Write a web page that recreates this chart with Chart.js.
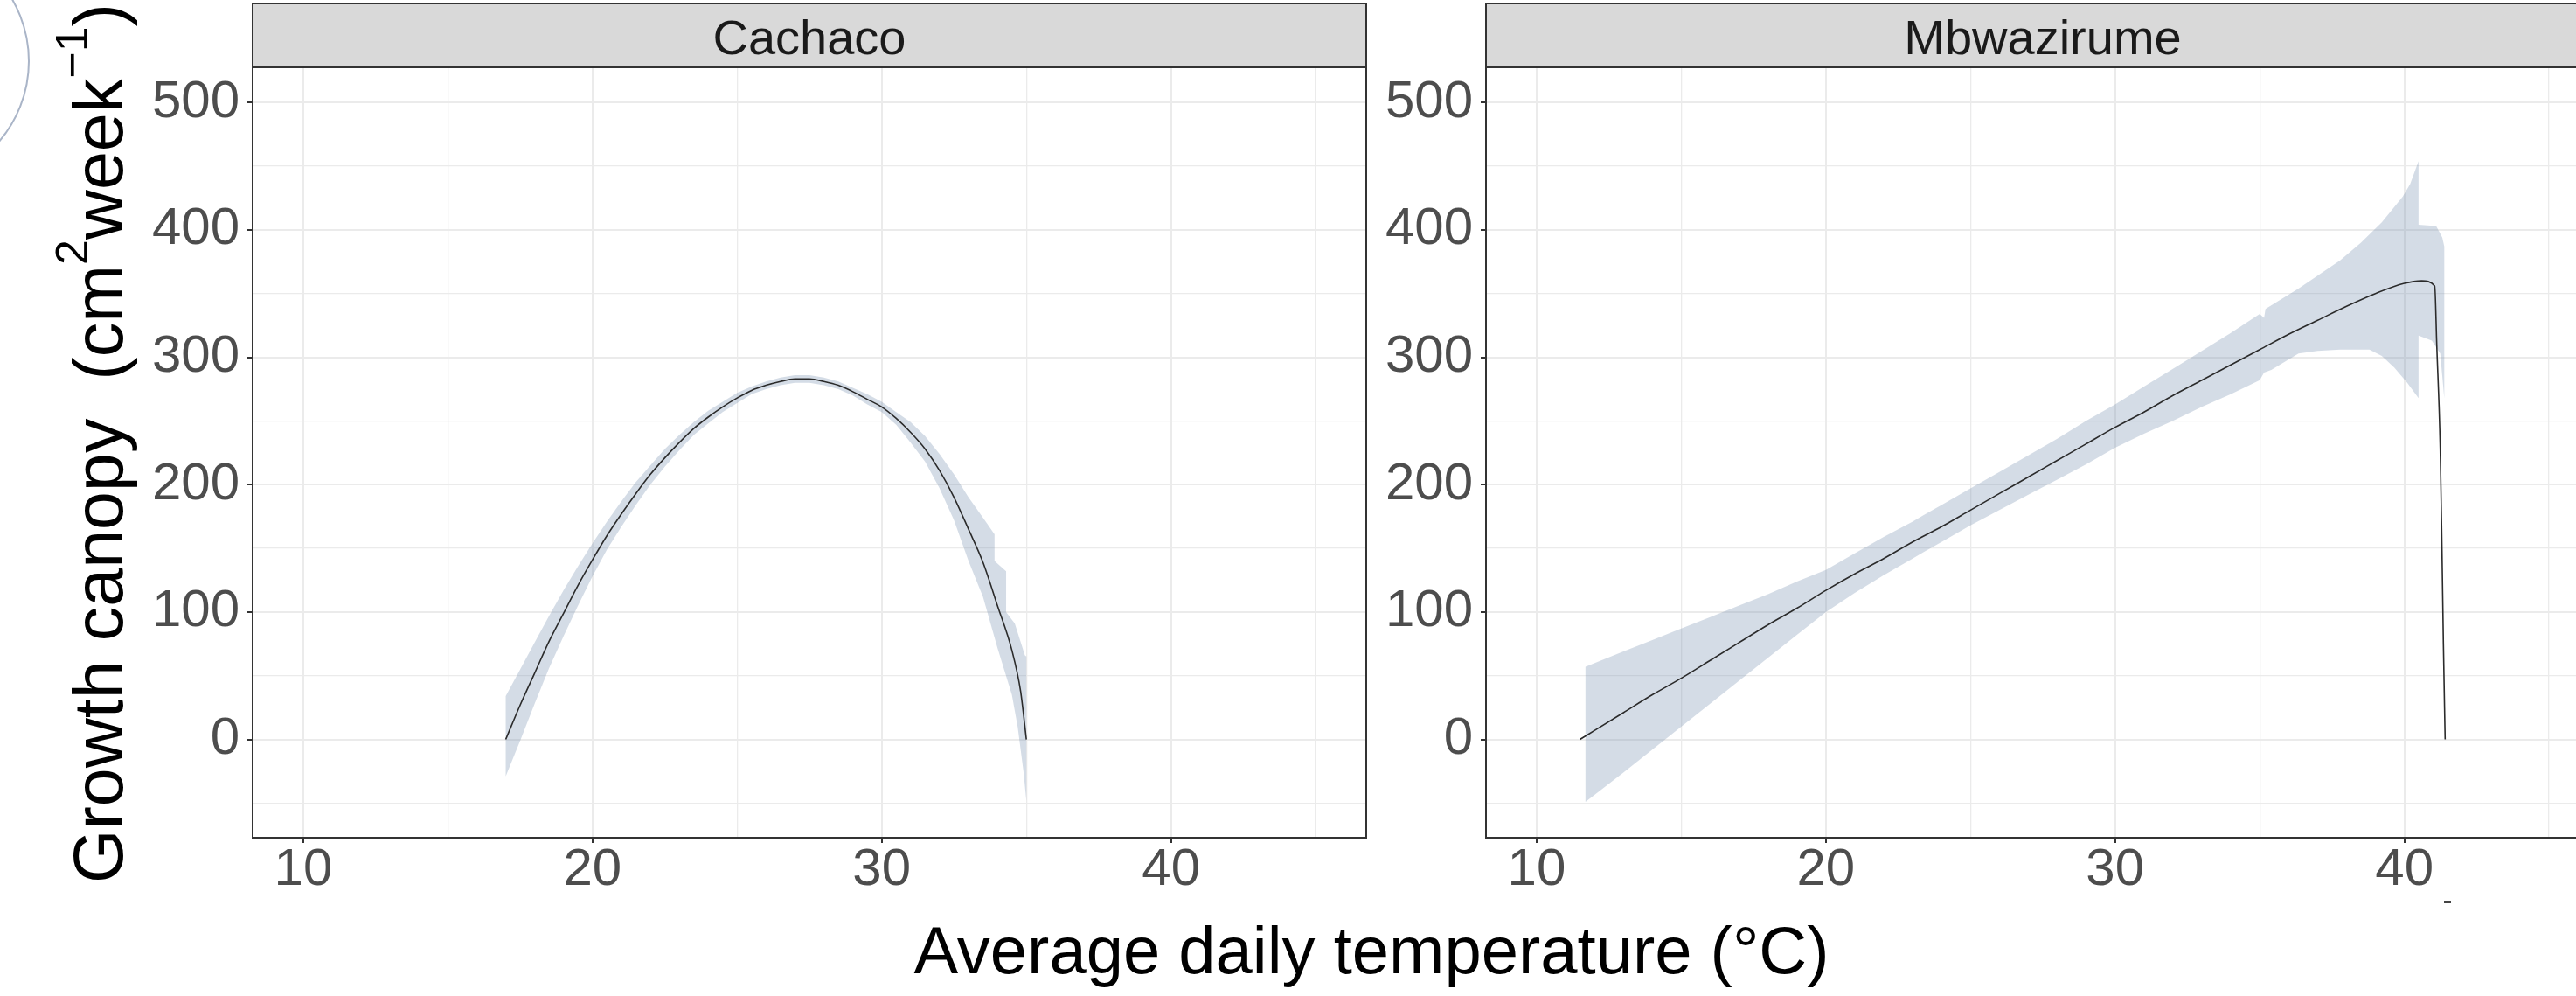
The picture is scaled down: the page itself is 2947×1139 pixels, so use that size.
<!DOCTYPE html>
<html>
<head>
<meta charset="utf-8">
<script src="https://cdn.jsdelivr.net/npm/chart.js@4.4.1/dist/chart.umd.min.js"></script>
<style>
  html, body { margin: 0; padding: 0; background: #fff; overflow: hidden; }
  #wrap { position: relative; width: 2947px; height: 1139px; overflow: hidden; }
  canvas { position: absolute; top: 0; }
  #left { left: 0; }
  #right { left: 1540px; }
</style>
</head>
<body>
<div id="wrap">
  <canvas id="left" width="2947" height="1139"></canvas>
  <canvas id="right" width="1460" height="1139"></canvas>
</div>
<script>
// facet names and axis labels
const panels = ["Cachaco", "Mbwazirume"];
const xTitle = "Average daily temperature (°C)";
const yTitleParts = [["Growth canopy  (cm", false], ["2", true], ["week", false], ["\u22121", true], [")", false]];
const xTicks = [10, 20, 30, 40];
const yTicks = [0, 100, 200, 300, 400, 500];

// Cachaco fitted curve
const cachacoX = [17, 17.5, 18, 18.5, 19, 19.5, 20, 20.5, 21, 21.5, 22, 22.5, 23, 23.5, 24, 24.5, 25, 25.5, 26, 26.5, 27, 27.5, 28, 28.5, 29, 29.5, 30, 30.5, 31, 31.5, 32, 32.5, 33, 33.5, 34, 34.5, 34.8, 35];
const cachacoY = [0, 27, 52, 77, 99, 121, 141, 160, 177, 193, 208, 221, 233, 244, 253, 261, 268, 274, 278, 281, 283, 283, 281, 278, 273, 267, 261, 252, 241, 228, 211, 190, 165, 139, 105, 70, 38, 0];
// Cachaco confidence band
const cachacoUpX = [17, 17.5, 18, 18.5, 19, 19.5, 20, 20.5, 21, 21.5, 22, 22.5, 23, 23.5, 24, 24.5, 25, 25.5, 26, 26.5, 27, 27.5, 28, 28.5, 29, 29.5, 30, 30.5, 31, 31.5, 32, 32.5, 33, 33.5, 33.9, 33.9, 34.3, 34.3, 34.6, 34.95, 35];
const cachacoUp = [34, 55, 76, 97, 117, 136, 154, 171, 187, 202, 215, 228, 239, 249, 258, 265, 272, 277, 281, 284, 286, 286, 284, 281, 276, 271, 265, 257, 249, 238, 224, 208, 190, 174, 161, 140, 132, 100, 91, 66, 65];
const cachacoLoX = [17, 17.5, 18, 18.5, 19, 19.5, 20, 20.5, 21, 21.5, 22, 22.5, 23, 23.5, 24, 24.5, 25, 25.5, 26, 26.5, 27, 27.5, 28, 28.5, 29, 29.5, 30, 30.5, 31, 31.5, 32, 32.5, 33, 33.5, 34, 34.5, 34.7, 34.9, 35];
const cachacoLo = [-29, -1, 28, 56, 81, 105, 128, 149, 167, 184, 200, 214, 227, 239, 248, 257, 264, 271, 275, 278, 280, 280, 278, 275, 270, 263, 257, 247, 233, 218, 197, 172, 140, 112, 72, 35, 10, -25, -48];

// Mbwazirume fitted curve
const mbwaX = [11.5, 12, 13, 14, 15, 16, 17, 18, 19, 20, 21, 22, 23, 24, 25, 26, 27, 28, 29, 30, 31, 32, 33, 34, 35, 36, 37, 38, 39, 40, 40.6, 41.05, 41.12, 41.24, 41.3, 41.35, 41.41];
const mbwaY = [0, 7, 21, 35, 48, 62, 76, 90, 103, 117, 130, 142, 155, 167, 180, 193, 206, 219, 232, 245, 257, 270, 282, 294, 306, 318, 329, 340, 350, 358, 360, 356, 310, 229, 150, 75, 0];
// Mbwazirume confidence band
const mbwaUpX = [11.69, 13, 14, 15, 16, 17, 18, 19, 20, 21, 22, 23, 23.37, 24, 25, 26, 27, 28, 29, 30, 31, 32, 33, 34, 35, 35.15, 35.2, 36.34, 37, 37.78, 38.5, 39.22, 39.94, 40.2, 40.49, 40.49, 41.1, 41.31, 41.38];
const mbwaUp = [57, 69, 78, 87, 96, 105, 114, 124, 133, 146, 159, 171, 176, 184, 197, 210, 223, 236, 250, 263, 277, 291, 305, 319, 334, 331, 338, 354, 364, 376, 390, 406, 426, 436, 454, 404, 403, 394, 387];
const mbwaLoX = [11.69, 13, 14, 15, 16, 17, 18, 19, 20, 21, 22, 23, 23.37, 24, 25, 26, 27, 28, 29, 30, 31, 32, 33, 34, 35, 35.15, 35.4, 36.34, 37, 37.78, 38.79, 39.22, 39.65, 40.1, 40.49, 40.49, 40.95, 41.24, 41.38];
const mbwaLo = [-49, -26, -8, 10, 28, 46, 64, 82, 100, 115, 129, 142, 147, 155, 168, 180, 192, 204, 216, 229, 240, 250, 261, 271, 282, 288, 290, 303, 305, 306, 306, 301, 292, 280, 268, 317, 313, 303, 268];

const FONT = '"Liberation Sans", Arial, sans-serif';
Chart.defaults.font.family = FONT;

const pts = (xs, ys) => xs.map((x, i) => ({ x: x, y: ys[i] }));
// band as one closed shape: upper edge left to right, lower edge back
const band = (ux, uy, lx, ly) => pts(ux, uy).concat(pts(lx, ly).reverse());

// grey strip on top + panel frame
const panelPlugin = {
  id: 'panel',
  afterDraw(chart, args, opts) {
    const { ctx, chartArea: a } = chart;
    ctx.save();
    ctx.fillStyle = '#d9d9d9';
    ctx.fillRect(a.left, 4, a.right - a.left, a.top - 4);
    ctx.strokeStyle = '#333333';
    ctx.lineWidth = 2;
    ctx.strokeRect(a.left, 4, a.right - a.left, a.top - 4);
    ctx.strokeRect(a.left, a.top, a.right - a.left, a.bottom - a.top);
    ctx.fillStyle = '#1a1a1a';
    ctx.font = '56px ' + FONT;
    ctx.textAlign = 'center';
    ctx.textBaseline = 'alphabetic';
    ctx.fillText(opts.text, (a.left + a.right) / 2, 62);
    if (opts.extra) opts.extra(ctx);
    ctx.restore();
  }
};

// shared axis titles, drawn on the left canvas
const titlePlugin = {
  id: 'titles',
  afterDraw(chart) {
    const ctx = chart.ctx;
    ctx.save();
    ctx.fillStyle = '#000';
    ctx.textBaseline = 'alphabetic';
    ctx.font = '76px ' + FONT;
    ctx.textAlign = 'center';
    ctx.fillText(xTitle, 1569, 1113);

    ctx.translate(140, 507);
    ctx.rotate(-Math.PI / 2);
    ctx.textAlign = 'left';
    const big = '79px ' + FONT, small = '52px ' + FONT;
    let total = 0;
    const w = yTitleParts.map(([t, sup]) => {
      ctx.font = sup ? small : big;
      const m = ctx.measureText(t).width;
      total += m;
      return m;
    });
    let x = -total / 2;
    yTitleParts.forEach(([t, sup], i) => {
      ctx.font = sup ? small : big;
      ctx.fillText(t, x, sup ? -40 : 0);
      x += w[i];
    });
    ctx.restore();

    // stray circle at the top left corner of the original figure
    ctx.save();
    ctx.strokeStyle = '#aab5c8';
    ctx.lineWidth = 2;
    ctx.beginPath();
    ctx.arc(-108, 70, 141, 0, Math.PI * 2);
    ctx.stroke();
    ctx.restore();
  }
};

const isMajor = (list, c) => c.tick && list.includes(c.tick.value);

function makePanel(id, title, line, shape, yWidth, padRight, extra) {
  return new Chart(document.getElementById(id), {
    type: 'line',
    data: {
      datasets: [
        { data: line, borderColor: '#2b2b2b', borderWidth: 1.6, pointRadius: 0,
          cubicInterpolationMode: 'monotone', fill: false, order: 0 },
        { data: shape, backgroundColor: 'rgba(112,138,172,0.3)', borderWidth: 0,
          pointRadius: 0, tension: 0, fill: 'shape', order: 1 }
      ]
    },
    options: {
      responsive: false,
      animation: false,
      events: [],
      layout: { padding: { left: 0, top: 77, right: padRight, bottom: 0 } },
      plugins: {
        legend: { display: false },
        tooltip: { enabled: false },
        panel: { text: title, extra: extra }
      },
      scales: {
        x: {
          type: 'linear', min: 8.25, max: 46.75,
          afterFit: s => { s.height = 181; },
          border: { display: false },
          grid: {
            color: '#ebebeb',
            lineWidth: c => isMajor(xTicks, c) ? 2 : 1.3,
            tickLength: 6, tickWidth: 2,
            tickColor: c => isMajor(xTicks, c) ? '#333333' : 'rgba(0,0,0,0)'
          },
          ticks: {
            stepSize: 5, maxTicksLimit: 100, includeBounds: false, autoSkip: false,
            maxRotation: 0, padding: 1, color: '#4d4d4d',
            font: { size: 60, lineHeight: 1 },
            callback: v => xTicks.includes(v) ? String(v) : ''
          }
        },
        y: {
          min: -77.2, max: 527.6,
          afterFit: s => { s.width = yWidth; },
          border: { display: false },
          grid: {
            color: '#ebebeb',
            lineWidth: c => isMajor(yTicks, c) ? 2 : 1.3,
            tickLength: 6, tickWidth: 2,
            tickColor: c => isMajor(yTicks, c) ? '#333333' : 'rgba(0,0,0,0)'
          },
          ticks: {
            stepSize: 50, maxTicksLimit: 100, includeBounds: false, autoSkip: false,
            padding: 9, color: '#4d4d4d',
            font: { size: 60, lineHeight: 1 },
            callback: v => yTicks.includes(v) ? String(v) : ''
          }
        }
      }
    },
    plugins: id === 'left' ? [panelPlugin, titlePlugin] : [panelPlugin]
  });
}

makePanel('left', panels[0], pts(cachacoX, cachacoY),
  band(cachacoUpX, cachacoUp, cachacoLoX, cachacoLo), 289, 1384);

makePanel('right', panels[1], pts(mbwaX, mbwaY),
  band(mbwaUpX, mbwaUp, mbwaLoX, mbwaLo), 160, 26,
  ctx => { ctx.fillStyle = '#444'; ctx.fillRect(1256, 1030, 8, 3); });
</script>
</body>
</html>
